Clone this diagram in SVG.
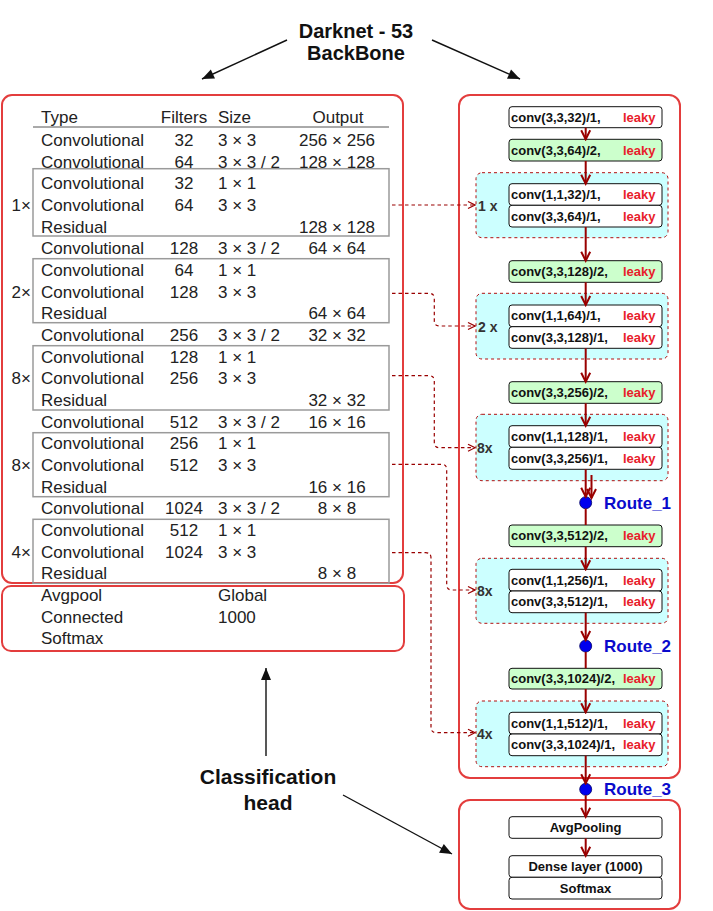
<svg xmlns="http://www.w3.org/2000/svg" width="713" height="911" viewBox="0 0 713 911">
<defs>
<style>
.tt{font-family:"Liberation Sans",Arial,Helvetica,sans-serif;font-size:17px;fill:#222}
.c{text-anchor:middle}
.r{text-anchor:end}
.bx{font-family:"Liberation Sans",Arial,sans-serif;font-size:13px;font-weight:bold;fill:#111}
.lk{font-family:"Liberation Sans",Arial,sans-serif;font-size:13px;font-weight:bold;fill:#e8202a}
.gl{font-family:"Liberation Sans",Arial,sans-serif;font-size:14px;font-weight:bold;fill:#333}
.rt{font-family:"Liberation Sans",Arial,sans-serif;font-size:17px;font-weight:bold;fill:#0a0acc}
.big{font-family:"Liberation Sans",Arial,sans-serif;font-size:20px;font-weight:bold;fill:#111;text-anchor:middle}
.panel{fill:none;stroke:#e33d3d;stroke-width:2}
.gbox{fill:none;stroke:#9a9a9a;stroke-width:1.5}
.w{fill:#fff;stroke:#111;stroke-width:1}
.g{fill:#ccffcc;stroke:#111;stroke-width:1}
.cy{fill:#ccffff;stroke:#b01010;stroke-width:1;stroke-dasharray:3 3}
.fl{fill:none;stroke:#990000;stroke-width:2}
.dl{fill:none;stroke:#990000;stroke-width:1.2;stroke-dasharray:3.5 3}
.ba{fill:none;stroke:#111;stroke-width:1.4}
</style>
<marker id="ah" markerUnits="userSpaceOnUse" markerWidth="14" markerHeight="14" viewBox="0 0 14 14" refX="12" refY="7" orient="auto">
<path d="M3,2.5 L12,7 L3,11.5" fill="none" stroke="#990000" stroke-width="2"/>
</marker>
<marker id="dh" markerUnits="userSpaceOnUse" markerWidth="10" markerHeight="10" viewBox="0 0 10 10" refX="9" refY="5" orient="auto">
<path d="M2,1.5 L9,5 L2,8.5" fill="none" stroke="#990000" stroke-width="1.2"/>
</marker>
<marker id="bh" markerUnits="userSpaceOnUse" markerWidth="14" markerHeight="14" viewBox="0 0 14 14" refX="13" refY="7" orient="auto">
<path d="M1,2 L13,7 L1,12 Z" fill="#111"/>
</marker>
</defs>

<!-- Titles -->
<g id="title">
<text class="big" x="356" y="38">Darknet - 53</text>
<text class="big" x="356" y="59.5">BackBone</text>
</g>
<g id="classification-label">
<text class="big" x="268" y="784" style="font-size:21px">Classification</text>
<text class="big" x="268" y="810" style="font-size:21px">head</text>
</g>

<!-- Left table -->
<g id="table">
<rect class="panel" x="2" y="95" width="401" height="488" rx="10"/>
<rect class="gbox" x="33" y="168.7" width="356" height="67.3"/>
<rect class="gbox" x="33" y="258.7" width="356" height="64"/>
<rect class="gbox" x="33" y="345.7" width="356" height="64.3"/>
<rect class="gbox" x="33" y="432.7" width="356" height="64"/>
<rect class="gbox" x="33" y="519.3" width="356" height="64"/>
<line x1="33" y1="127" x2="389" y2="127" stroke="#555" stroke-width="1"/>
<text class="tt" x="41" y="123">Type</text><text class="tt c" x="184" y="123">Filters</text><text class="tt" x="218" y="123">Size</text><text class="tt c" x="338" y="123">Output</text>

<text class="tt" x="41" y="146">Convolutional</text><text class="tt c" x="184" y="146">32</text><text class="tt" x="218" y="146">3 × 3</text><text class="tt c" x="337" y="146">256 × 256</text>
<text class="tt" x="41" y="167.7">Convolutional</text><text class="tt c" x="184" y="167.7">64</text><text class="tt" x="218" y="167.7">3 × 3 / 2</text><text class="tt c" x="337" y="167.7">128 × 128</text>
<text class="tt" x="41" y="189.3">Convolutional</text><text class="tt c" x="184" y="189.3">32</text><text class="tt" x="218" y="189.3">1 × 1</text>
<text class="tt r" x="31" y="211">1×</text><text class="tt" x="41" y="211">Convolutional</text><text class="tt c" x="184" y="211">64</text><text class="tt" x="218" y="211">3 × 3</text>
<text class="tt" x="41" y="232.7">Residual</text><text class="tt c" x="337" y="232.7">128 × 128</text>
<text class="tt" x="41" y="254.3">Convolutional</text><text class="tt c" x="184" y="254.3">128</text><text class="tt" x="218" y="254.3">3 × 3 / 2</text><text class="tt c" x="337" y="254.3">64 × 64</text>
<text class="tt" x="41" y="276">Convolutional</text><text class="tt c" x="184" y="276">64</text><text class="tt" x="218" y="276">1 × 1</text>
<text class="tt r" x="31" y="297.7">2×</text><text class="tt" x="41" y="297.7">Convolutional</text><text class="tt c" x="184" y="297.7">128</text><text class="tt" x="218" y="297.7">3 × 3</text>
<text class="tt" x="41" y="319.3">Residual</text><text class="tt c" x="337" y="319.3">64 × 64</text>
<text class="tt" x="41" y="341">Convolutional</text><text class="tt c" x="184" y="341">256</text><text class="tt" x="218" y="341">3 × 3 / 2</text><text class="tt c" x="337" y="341">32 × 32</text>
<text class="tt" x="41" y="362.7">Convolutional</text><text class="tt c" x="184" y="362.7">128</text><text class="tt" x="218" y="362.7">1 × 1</text>
<text class="tt r" x="31" y="384.3">8×</text><text class="tt" x="41" y="384.3">Convolutional</text><text class="tt c" x="184" y="384.3">256</text><text class="tt" x="218" y="384.3">3 × 3</text>
<text class="tt" x="41" y="406">Residual</text><text class="tt c" x="337" y="406">32 × 32</text>
<text class="tt" x="41" y="427.7">Convolutional</text><text class="tt c" x="184" y="427.7">512</text><text class="tt" x="218" y="427.7">3 × 3 / 2</text><text class="tt c" x="337" y="427.7">16 × 16</text>
<text class="tt" x="41" y="449.3">Convolutional</text><text class="tt c" x="184" y="449.3">256</text><text class="tt" x="218" y="449.3">1 × 1</text>
<text class="tt r" x="31" y="471">8×</text><text class="tt" x="41" y="471">Convolutional</text><text class="tt c" x="184" y="471">512</text><text class="tt" x="218" y="471">3 × 3</text>
<text class="tt" x="41" y="492.7">Residual</text><text class="tt c" x="337" y="492.7">16 × 16</text>
<text class="tt" x="41" y="514.3">Convolutional</text><text class="tt c" x="184" y="514.3">1024</text><text class="tt" x="218" y="514.3">3 × 3 / 2</text><text class="tt c" x="337" y="514.3">8 × 8</text>
<text class="tt" x="41" y="536">Convolutional</text><text class="tt c" x="184" y="536">512</text><text class="tt" x="218" y="536">1 × 1</text>
<text class="tt r" x="31" y="557.7">4×</text><text class="tt" x="41" y="557.7">Convolutional</text><text class="tt c" x="184" y="557.7">1024</text><text class="tt" x="218" y="557.7">3 × 3</text>
<text class="tt" x="41" y="579.3">Residual</text><text class="tt c" x="337" y="579.3">8 × 8</text>
</g>
<g id="table-head">
<rect class="panel" x="2" y="586" width="402" height="65" rx="9"/>
<text class="tt" x="41" y="601">Avgpool</text><text class="tt" x="218" y="601">Global</text>
<text class="tt" x="41" y="622.7">Connected</text><text class="tt" x="218" y="622.7">1000</text>
<text class="tt" x="41" y="644.3">Softmax</text>
</g>

<!-- Right panels -->
<g id="backbone-panel"><rect class="panel" x="459" y="95" width="221" height="683" rx="11"/></g>
<g id="head-panel"><rect class="panel" x="459" y="800" width="221" height="109" rx="11"/></g>

<g id="group1"><rect class="cy" x="476" y="172.7" width="192" height="65" rx="6"/><text class="gl" x="478" y="210.5">1 x</text></g>
<g id="group2"><rect class="cy" x="476" y="293.3" width="192" height="65.7" rx="6"/><text class="gl" x="478" y="332">2 x</text></g>
<g id="group3"><rect class="cy" x="476" y="414.3" width="192" height="66.4" rx="6"/><text class="gl" x="477" y="452.5">8x</text></g>
<g id="group4"><rect class="cy" x="476" y="558.3" width="192" height="65" rx="6"/><text class="gl" x="477" y="596">8x</text></g>
<g id="group5"><rect class="cy" x="476" y="701" width="192" height="65.7" rx="6"/><text class="gl" x="477" y="739">4x</text></g>

<g id="b1"><rect class="w" x="509" y="106.7" width="153" height="21" rx="3"/><text class="bx" x="511" y="121.7">conv(3,3,32)/1,</text><text class="lk" x="623" y="121.7">leaky</text></g>
<g id="g1"><rect class="g" x="509" y="139.3" width="153" height="21.7" rx="3"/><text class="bx" x="511" y="154.5">conv(3,3,64)/2,</text><text class="lk" x="623" y="154.5">leaky</text></g>
<g id="c1a"><rect class="w" x="509" y="183.7" width="153" height="21.6" rx="3"/><text class="bx" x="511" y="198.8">conv(1,1,32)/1,</text><text class="lk" x="623" y="198.8">leaky</text></g>
<g id="c1b"><rect class="w" x="509" y="205.3" width="153" height="21.7" rx="3"/><text class="bx" x="511" y="220.5">conv(3,3,64)/1,</text><text class="lk" x="623" y="220.5">leaky</text></g>
<g id="g2"><rect class="g" x="509" y="260.7" width="153" height="21.6" rx="3"/><text class="bx" x="511" y="275.8">conv(3,3,128)/2,</text><text class="lk" x="623" y="275.8">leaky</text></g>
<g id="c2a"><rect class="w" x="509" y="305" width="153" height="21.7" rx="3"/><text class="bx" x="511" y="320.2">conv(1,1,64)/1,</text><text class="lk" x="623" y="320.2">leaky</text></g>
<g id="c2b"><rect class="w" x="509" y="326.7" width="153" height="21.6" rx="3"/><text class="bx" x="511" y="341.8">conv(3,3,128)/1,</text><text class="lk" x="623" y="341.8">leaky</text></g>
<g id="g3"><rect class="g" x="509" y="381.7" width="153" height="21.6" rx="3"/><text class="bx" x="511" y="396.8">conv(3,3,256)/2,</text><text class="lk" x="623" y="396.8">leaky</text></g>
<g id="c3a"><rect class="w" x="509" y="425.7" width="153" height="21.6" rx="3"/><text class="bx" x="511" y="440.8">conv(1,1,128)/1,</text><text class="lk" x="623" y="440.8">leaky</text></g>
<g id="c3b"><rect class="w" x="509" y="447.3" width="153" height="22" rx="3"/><text class="bx" x="511" y="462.6">conv(3,3,256)/1,</text><text class="lk" x="623" y="462.6">leaky</text></g>
<g id="route1"><circle cx="585.7" cy="502.7" r="6" fill="#0000ee" stroke="#000066" stroke-width="0.8"/><text class="rt" x="604" y="509">Route_1</text></g>
<g id="g4"><rect class="g" x="509" y="525" width="153" height="21.7" rx="3"/><text class="bx" x="511" y="540.2">conv(3,3,512)/2,</text><text class="lk" x="623" y="540.2">leaky</text></g>
<g id="c4a"><rect class="w" x="509" y="569.3" width="153" height="21.7" rx="3"/><text class="bx" x="511" y="584.5">conv(1,1,256)/1,</text><text class="lk" x="623" y="584.5">leaky</text></g>
<g id="c4b"><rect class="w" x="509" y="591" width="153" height="21.7" rx="3"/><text class="bx" x="511" y="606.2">conv(3,3,512)/1,</text><text class="lk" x="623" y="606.2">leaky</text></g>
<g id="route2"><circle cx="585.7" cy="646" r="6" fill="#0000ee" stroke="#000066" stroke-width="0.8"/><text class="rt" x="604" y="652">Route_2</text></g>
<g id="g5"><rect class="g" x="509" y="668.3" width="153" height="20.7" rx="3"/><text class="bx" x="511" y="683">conv(3,3,1024)/2,</text><text class="lk" x="623" y="683">leaky</text></g>
<g id="c5a"><rect class="w" x="509" y="712.3" width="153" height="21.7" rx="3"/><text class="bx" x="511" y="727.5">conv(1,1,512)/1,</text><text class="lk" x="623" y="727.5">leaky</text></g>
<g id="c5b"><rect class="w" x="509" y="734" width="153" height="21.7" rx="3"/><text class="bx" x="511" y="749.2">conv(3,3,1024)/1,</text><text class="lk" x="623" y="749.2">leaky</text></g>
<g id="route3"><circle cx="585.7" cy="789.3" r="6" fill="#0000ee" stroke="#000066" stroke-width="0.8"/><text class="rt" x="604" y="795">Route_3</text></g>
<g id="avgpool"><rect class="w" x="509" y="816.7" width="153" height="21.6" rx="3"/><text class="bx c" x="585.5" y="832">AvgPooling</text></g>
<g id="dense"><rect class="w" x="509" y="855.7" width="153" height="21.6" rx="3"/><text class="bx c" x="585.5" y="871">Dense layer (1000)</text></g>
<g id="softmax"><rect class="w" x="509" y="877.3" width="153" height="21.7" rx="3"/><text class="bx c" x="585.5" y="892.6">Softmax</text></g>

<!-- Connectors -->
<g id="connectors">
<line class="fl" x1="585.7" y1="127.7" x2="585.7" y2="139.3" marker-end="url(#ah)"/>
<line class="fl" x1="585.7" y1="161" x2="585.7" y2="183.7" marker-end="url(#ah)"/>
<line class="fl" x1="585.7" y1="227" x2="585.7" y2="260.7" marker-end="url(#ah)"/>
<line class="fl" x1="585.7" y1="282.3" x2="585.7" y2="305" marker-end="url(#ah)"/>
<line class="fl" x1="585.7" y1="348.3" x2="585.7" y2="381.7" marker-end="url(#ah)"/>
<line class="fl" x1="585.7" y1="403.3" x2="585.7" y2="425.7" marker-end="url(#ah)"/>
<line class="fl" x1="585.7" y1="469.3" x2="585.7" y2="496.7" marker-end="url(#ah)"/>
<line class="fl" x1="591.5" y1="475" x2="591.5" y2="498" marker-end="url(#ah)"/>
<line class="fl" x1="585.7" y1="508.7" x2="585.7" y2="525"/>
<line class="fl" x1="585.7" y1="546.7" x2="585.7" y2="569.3" marker-end="url(#ah)"/>
<line class="fl" x1="585.7" y1="612.7" x2="585.7" y2="640" marker-end="url(#ah)"/>
<line class="fl" x1="585.7" y1="652" x2="585.7" y2="668.3"/>
<line class="fl" x1="585.7" y1="689" x2="585.7" y2="712.3" marker-end="url(#ah)"/>
<line class="fl" x1="585.7" y1="755.7" x2="585.7" y2="783.3" marker-end="url(#ah)"/>
<line class="fl" x1="585.7" y1="795.3" x2="585.7" y2="816.7" marker-end="url(#ah)"/>
<line class="fl" x1="585.7" y1="838.3" x2="585.7" y2="855.7" marker-end="url(#ah)"/>

<path class="dl" d="M392,205 L475,205" marker-end="url(#dh)"/>
<path class="dl" d="M392,293.3 L429,293.3 Q434.3,293.3 434.3,298.6 L434.3,320.7 Q434.3,326 439.6,326 L475,326" marker-end="url(#dh)"/>
<path class="dl" d="M392,375.7 L429,375.7 Q434.3,375.7 434.3,381 L434.3,442.4 Q434.3,447.7 439.6,447.7 L475,447.7" marker-end="url(#dh)"/>
<path class="dl" d="M392,464.3 L441.4,464.3 Q446.7,464.3 446.7,469.6 L446.7,584.7 Q446.7,590 452,590 L475,590" marker-end="url(#dh)"/>
<path class="dl" d="M392,552.7 L425.7,552.7 Q431,552.7 431,558 L431,727.4 Q431,732.7 436.3,732.7 L475,732.7" marker-end="url(#dh)"/>

<line class="ba" x1="287" y1="40" x2="202" y2="79" marker-end="url(#bh)"/>
<line class="ba" x1="432" y1="40" x2="520" y2="79" marker-end="url(#bh)"/>
<line class="ba" x1="266" y1="756" x2="266" y2="668" marker-end="url(#bh)"/>
<line class="ba" x1="343" y1="795" x2="452" y2="854" marker-end="url(#bh)"/>
</g>
</svg>
